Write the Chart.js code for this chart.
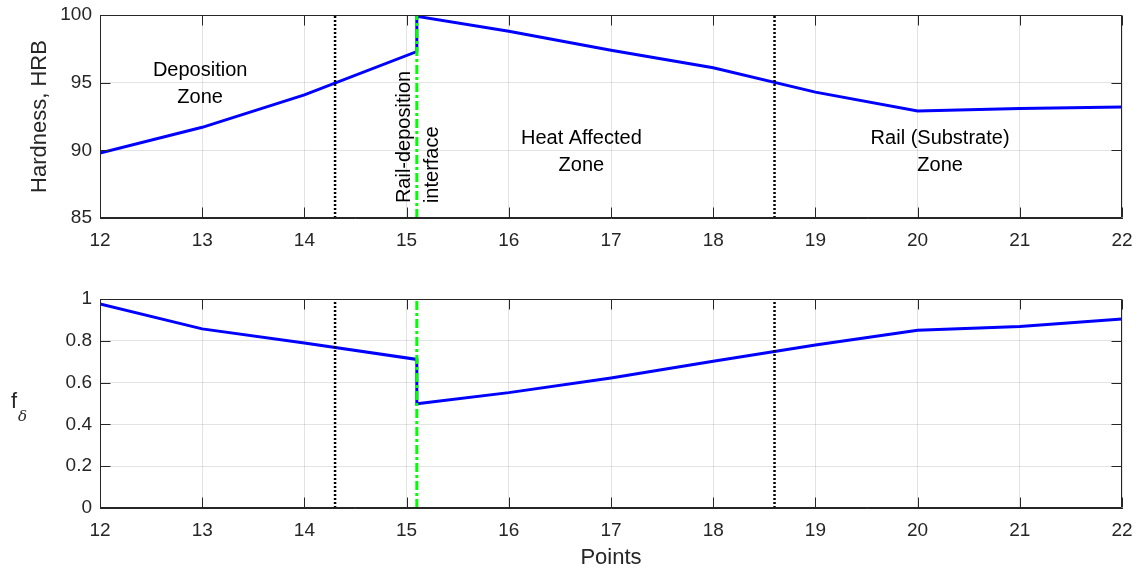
<!DOCTYPE html>
<html>
<head>
<meta charset="utf-8">
<script src="https://cdn.jsdelivr.net/npm/chart.js@4.4.1/dist/chart.umd.min.js"></script>
<style>
  body { margin: 0; background: #fff; }
  #wrap { position: relative; width: 1138px; height: 571px; }
  .panel { position: absolute; left: 0; width: 1138px; }
  #top { top: 0; height: 262px; }
  #bottom { top: 280px; height: 291px; }
</style>
</head>
<body>
<div id="wrap">
  <div class="panel" id="top"><canvas id="hardnessChart"></canvas></div>
  <div class="panel" id="bottom"><canvas id="fChart"></canvas></div>
</div>
<script>
// measured points along the specimen
const points = [12, 13, 14, 15.1, 15.1, 16, 17, 18, 19, 20, 21, 22];
const hardness = [89.8, 91.7, 94.1, 97.3, 99.9, 98.8, 97.4, 96.1, 94.3, 92.9, 93.1, 93.2];
const fDelta = [0.976, 0.857, 0.79, 0.711, 0.499, 0.552, 0.622, 0.702, 0.78, 0.85, 0.869, 0.904];

// zone boundaries and the rail-deposition interface
const zoneBounds = [14.3, 18.6];
const interfaceX = 15.1;

// axis ranges / ticks
const xRange = [12, 22];
const hardnessRange = [85, 100];
const fRange = [0, 1];

const FONT = '"Liberation Sans", Arial, Helvetica, sans-serif';
const TXT = '#262626';
const GRID = 'rgba(38,38,38,0.13)';

// helper: series as x/y pairs
function pairs(xs, ys) {
  return xs.map((x, i) => ({ x: x, y: ys[i] }));
}
function vline(x, range) {
  return [{ x: x, y: range[0] }, { x: x, y: range[1] }];
}

// box + inward ticks like matlab axes
const boxPlugin = {
  id: 'boxTicks',
  afterDraw(chart) {
    const { ctx, chartArea: a, scales } = chart;
    const L = Math.round(a.left) + 0.5, R = Math.round(a.right) - 0.5;
    const T = Math.round(a.top) + 0.5, B = Math.round(a.bottom) - 0.5;
    ctx.save();
    ctx.strokeStyle = TXT;
    ctx.lineWidth = 1;
    ctx.beginPath();
    ctx.moveTo(L, T); ctx.lineTo(R, T); ctx.lineTo(R, B); ctx.lineTo(L, B); ctx.closePath();
    scales.x.ticks.forEach(t => {
      const px = Math.round(scales.x.getPixelForValue(t.value)) + 0.5;
      ctx.moveTo(px, B); ctx.lineTo(px, B - 10);
      ctx.moveTo(px, T); ctx.lineTo(px, T + 10);
    });
    scales.y.ticks.forEach(t => {
      const py = Math.round(scales.y.getPixelForValue(t.value)) + 0.5;
      ctx.moveTo(L, py); ctx.lineTo(L + 10, py);
      ctx.moveTo(R, py); ctx.lineTo(R - 10, py);
    });
    ctx.stroke();
    ctx.restore();
  }
};

// zone labels placed in data units
const notePlugin = {
  id: 'notes',
  afterDraw(chart, args, opts) {
    const { ctx, scales } = chart;
    ctx.save();
    ctx.fillStyle = '#000';
    ctx.font = '20px ' + FONT;
    (opts.items || []).forEach(n => {
      const px = scales.x.getPixelForValue(n.x);
      if (n.rotate) {
        const py = scales.y.getPixelForValue(n.y);
        ctx.save();
        ctx.translate(px, py);
        ctx.rotate(-Math.PI / 2);
        ctx.textAlign = 'left';
        ctx.textBaseline = 'middle';
        ctx.fillText(n.text, 0, 0);
        ctx.restore();
      } else {
        ctx.textAlign = 'center';
        ctx.textBaseline = 'middle';
        n.lines.forEach((s, i) => {
          ctx.fillText(s, px, scales.y.getPixelForValue(n.ys[i]));
        });
      }
    });
    if (opts.fLabel) {
      const py = (chart.chartArea.top + chart.chartArea.bottom) / 2;
      ctx.fillStyle = TXT;
      ctx.textAlign = 'left';
      ctx.textBaseline = 'alphabetic';
      ctx.font = '22px ' + FONT;
      ctx.fillText('f', 11, py + 4);
      ctx.font = 'italic 15px "DejaVu Serif", serif';
      ctx.fillText('δ', 18, py + 17);
    }
    ctx.restore();
  }
};

// stop chart.js from reserving room for overhanging end labels
function noPad(s) {
  s.paddingLeft = 0; s.paddingRight = 0; s.paddingTop = 0; s.paddingBottom = 0;
}

function xScale(showTitle) {
  return {
    type: 'linear',
    min: xRange[0], max: xRange[1],
    ticks: { stepSize: 1, color: TXT, font: { family: FONT, size: 19 }, padding: 11 },
    grid: { color: GRID, drawTicks: false },
    border: { display: true, color: TXT },
    title: {
      display: showTitle, text: 'Points', color: TXT,
      font: { family: FONT, size: 22 }, padding: { top: 0, bottom: 0 }
    },
    afterFit: s => { s.height = showTitle ? 63 : 44; noPad(s); }
  };
}

function lineSets(ys, range) {
  const sets = [{
    data: pairs(points, ys),
    borderColor: '#0000ff', borderWidth: 3, order: 3
  }, {
    data: vline(interfaceX, range),
    borderColor: '#00ff00', borderWidth: 3, borderDash: [9, 3, 3, 3], order: 1
  }];
  zoneBounds.forEach(b => {
    sets.push({
      data: vline(b, range),
      borderColor: '#000', borderWidth: 2.5, borderDash: [2, 2], order: 2
    });
  });
  sets.forEach(s => { s.showLine = true; s.pointRadius = 0; s.fill = false; });
  return sets;
}

const common = {
  responsive: true,
  maintainAspectRatio: false,
  animation: false,
  events: []
};

new Chart(document.getElementById('hardnessChart'), {
  type: 'scatter',
  data: { datasets: lineSets(hardness, hardnessRange) },
  options: Object.assign({}, common, {
    layout: { padding: { top: 15, right: 16, left: 0, bottom: 0 } },
    plugins: {
      legend: { display: false },
      tooltip: { enabled: false },
      notes: {
        items: [
          { x: 12.98, lines: ['Deposition', 'Zone'], ys: [95.9, 93.9] },
          { x: 16.71, lines: ['Heat Affected', 'Zone'], ys: [90.9, 88.9] },
          { x: 20.22, lines: ['Rail (Substrate)', 'Zone'], ys: [90.9, 88.9] },
          { x: 14.98, y: 86.1, rotate: true, text: 'Rail-deposition' },
          { x: 15.255, y: 86.1, rotate: true, text: 'interface' }
        ]
      }
    },
    scales: {
      x: xScale(false),
      y: {
        min: hardnessRange[0], max: hardnessRange[1],
        ticks: { stepSize: 5, color: TXT, font: { family: FONT, size: 19 }, padding: 8 },
        grid: { color: GRID, drawTicks: false },
        border: { display: true, color: TXT },
        title: {
          display: true, text: 'Hardness, HRB', color: TXT,
          font: { family: FONT, size: 22 }, padding: { top: 27, bottom: 0 }
        },
        afterFit: s => { s.width = 100; noPad(s); }
      }
    }
  }),
  plugins: [boxPlugin, notePlugin]
});

new Chart(document.getElementById('fChart'), {
  type: 'scatter',
  data: { datasets: lineSets(fDelta, fRange) },
  options: Object.assign({}, common, {
    layout: { padding: { top: 19, right: 16, left: 0, bottom: 0 } },
    plugins: {
      legend: { display: false },
      tooltip: { enabled: false },
      notes: { items: [], fLabel: true }
    },
    scales: {
      x: xScale(true),
      y: {
        min: fRange[0], max: fRange[1],
        ticks: {
          stepSize: 0.2, color: TXT, font: { family: FONT, size: 19 }, padding: 8,
          callback: v => String(+v.toFixed(1))
        },
        grid: { color: GRID, drawTicks: false },
        border: { display: true, color: TXT },
        afterFit: s => { s.width = 100; noPad(s); }
      }
    }
  }),
  plugins: [boxPlugin, notePlugin]
});
</script>
</body>
</html>
